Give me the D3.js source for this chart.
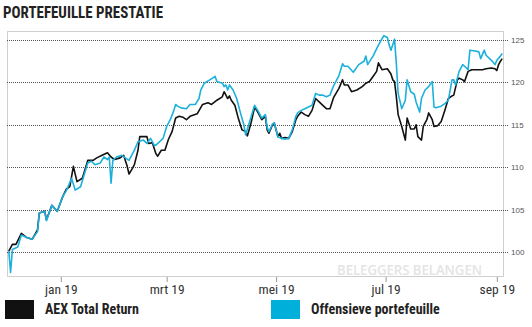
<!DOCTYPE html>
<html><head><meta charset="utf-8">
<script src="https://cdn.jsdelivr.net/npm/d3@7"></script>
<style>
html,body{margin:0;padding:0;background:#fff;}
svg{display:block;}
.narrow{font-family:"Liberation Sans Narrow","Arial Narrow","Roboto Condensed","Liberation Sans",Arial,sans-serif;font-stretch:condensed;}
</style></head>
<body>
<svg id="c" width="532" height="327"></svg>
<script>
const title = "PORTEFEUILLE PRESTATIE";
const watermark = "BELEGGERS BELANGEN";
const seriesNames = ["AEX Total Return", "Offensieve portefeuille"];
const seriesColors = ["#111111", "#1cb0dc"];
const yTicks = [100, 105, 110, 115, 120, 125];
const xTickDates = ["2019-01-01", "2019-03-01", "2019-05-01", "2019-07-01", "2019-09-01"];
const xTickLabels = ["jan 19", "mrt 19", "mei 19", "jul 19", "sep 19"];

const aexDates = ["2018-12-03","2018-12-05","2018-12-07","2018-12-10","2018-12-13","2018-12-16","2018-12-19","2018-12-20","2018-12-23","2018-12-24","2018-12-27","2018-12-30","2019-01-02","2019-01-04","2019-01-06","2019-01-08","2019-01-10","2019-01-13","2019-01-16","2019-01-19","2019-01-21","2019-01-24","2019-01-27","2019-01-29","2019-01-31","2019-02-03","2019-02-05","2019-02-07","2019-02-08","2019-02-10","2019-02-11","2019-02-13","2019-02-14","2019-02-18","2019-02-19","2019-02-21","2019-02-23","2019-02-24","2019-02-26","2019-02-28","2019-03-02","2019-03-04","2019-03-06","2019-03-08","2019-03-10","2019-03-12","2019-03-14","2019-03-18","2019-03-21","2019-03-24","2019-03-26","2019-03-29","2019-04-01","2019-04-02","2019-04-04","2019-04-05","2019-04-06","2019-04-08","2019-04-10","2019-04-12","2019-04-14","2019-04-15","2019-04-17","2019-04-19","2019-04-21","2019-04-23","2019-04-25","2019-04-26","2019-04-27","2019-04-29","2019-04-30","2019-05-02","2019-05-03","2019-05-04","2019-05-06","2019-05-08","2019-05-10","2019-05-12","2019-05-13","2019-05-15","2019-05-17","2019-05-19","2019-05-21","2019-05-23","2019-05-25","2019-05-27","2019-05-29","2019-05-31","2019-06-02","2019-06-05","2019-06-07","2019-06-08","2019-06-10","2019-06-12","2019-06-15","2019-06-18","2019-06-20","2019-06-22","2019-06-24","2019-06-26","2019-06-27","2019-06-29","2019-07-02","2019-07-04","2019-07-05","2019-07-06","2019-07-07","2019-07-08","2019-07-10","2019-07-12","2019-07-13","2019-07-15","2019-07-17","2019-07-18","2019-07-19","2019-07-21","2019-07-22","2019-07-24","2019-07-25","2019-07-27","2019-07-28","2019-07-30","2019-08-01","2019-08-03","2019-08-05","2019-08-07","2019-08-08","2019-08-10","2019-08-11","2019-08-13","2019-08-14","2019-08-16","2019-08-18","2019-08-21","2019-08-24","2019-08-26","2019-08-29","2019-08-31","2019-09-01","2019-09-02","2019-09-03","2019-09-04"];
const aexValues = [100.1,100.9,100.9,102.2,101.7,101.5,102.6,104.6,104.8,103.8,105.5,104.8,106.5,107.4,107.7,110.1,108.3,108.7,110.8,110.8,111.1,111.4,111.7,111.2,110.9,111.1,111.4,110.1,109.2,109.9,110.3,112.0,113.6,113.6,112.8,112.9,111.6,111.3,112.0,112.0,113.3,114.2,115.8,116.0,115.9,115.6,116.0,116.3,117.4,117.6,117.4,117.9,118.3,118.9,118.1,118.4,117.9,117.3,115.7,114.4,114.2,113.7,115.2,117.1,116.4,115.6,116.0,114.4,114.0,115.0,115.2,113.6,114.0,113.4,113.5,113.4,114.2,115.6,116.0,116.5,116.2,116.0,116.7,118.1,117.7,117.3,116.9,116.9,118.2,119.3,120.3,119.7,119.7,118.9,119.1,119.5,119.9,120.1,120.7,121.3,122.3,121.5,121.6,121.0,120.3,120.1,118.3,116.2,114.8,113.2,115.8,114.5,114.5,115.0,113.6,113.2,114.8,115.6,116.4,115.6,114.8,114.9,115.4,116.7,118.1,118.4,118.5,120.3,120.5,120.3,120.1,121.3,121.5,121.5,121.5,121.6,121.7,121.6,121.4,122.1,122.5,122.8];

const offDates = ["2018-12-03","2018-12-04","2018-12-05","2018-12-08","2018-12-10","2018-12-13","2018-12-16","2018-12-19","2018-12-20","2018-12-23","2018-12-24","2018-12-27","2018-12-30","2019-01-02","2019-01-04","2019-01-07","2019-01-09","2019-01-12","2019-01-16","2019-01-18","2019-01-20","2019-01-23","2019-01-25","2019-01-27","2019-01-28","2019-01-29","2019-01-30","2019-02-01","2019-02-04","2019-02-08","2019-02-11","2019-02-13","2019-02-16","2019-02-18","2019-02-20","2019-02-22","2019-02-23","2019-02-25","2019-02-27","2019-03-01","2019-03-03","2019-03-05","2019-03-06","2019-03-07","2019-03-09","2019-03-12","2019-03-14","2019-03-17","2019-03-19","2019-03-20","2019-03-22","2019-03-25","2019-03-28","2019-03-29","2019-04-01","2019-04-02","2019-04-03","2019-04-04","2019-04-05","2019-04-07","2019-04-09","2019-04-11","2019-04-13","2019-04-14","2019-04-16","2019-04-19","2019-04-21","2019-04-23","2019-04-25","2019-04-26","2019-04-27","2019-04-29","2019-04-30","2019-05-02","2019-05-04","2019-05-06","2019-05-08","2019-05-10","2019-05-12","2019-05-13","2019-05-15","2019-05-17","2019-05-19","2019-05-21","2019-05-23","2019-05-25","2019-05-27","2019-05-29","2019-05-31","2019-06-02","2019-06-05","2019-06-07","2019-06-08","2019-06-10","2019-06-13","2019-06-16","2019-06-19","2019-06-20","2019-06-21","2019-06-24","2019-06-27","2019-06-30","2019-07-02","2019-07-03","2019-07-04","2019-07-06","2019-07-07","2019-07-08","2019-07-10","2019-07-12","2019-07-13","2019-07-15","2019-07-17","2019-07-18","2019-07-20","2019-07-21","2019-07-23","2019-07-25","2019-07-27","2019-07-28","2019-07-29","2019-08-01","2019-08-03","2019-08-05","2019-08-07","2019-08-08","2019-08-09","2019-08-11","2019-08-13","2019-08-14","2019-08-16","2019-08-17","2019-08-20","2019-08-22","2019-08-23","2019-08-25","2019-08-26","2019-08-29","2019-08-31","2019-09-01","2019-09-03","2019-09-04"];
const offValues = [100.1,97.6,100.3,100.6,102.0,101.7,101.5,102.4,104.6,104.8,103.7,105.5,104.8,106.5,107.2,108.7,107.3,107.7,110.5,110.7,110.3,110.5,111.2,110.9,111.2,108.1,110.8,111.2,111.4,110.8,112.0,113.0,113.2,112.8,113.4,112.6,112.6,113.0,113.4,114.8,115.6,116.7,117.4,117.2,117.0,116.9,117.4,117.4,118.1,119.1,119.9,120.3,120.7,120.1,119.9,119.5,119.7,119.1,119.7,119.1,118.1,116.5,115.0,113.8,115.2,117.3,116.6,115.8,116.2,114.7,114.2,115.1,115.2,113.6,113.4,113.3,113.4,114.4,116.0,116.4,116.7,116.9,117.1,117.3,118.7,118.5,118.5,118.3,118.5,119.6,120.8,122.2,121.9,121.9,121.2,122.1,122.5,123.1,122.1,123.1,124.4,125.5,125.3,124.4,123.8,125.1,122.2,118.7,116.9,117.9,120.3,118.9,118.6,117.7,116.5,118.1,119.1,119.5,120.1,117.1,117.0,117.2,117.5,117.9,120.3,120.3,119.7,121.3,122.1,121.9,121.5,123.8,123.7,123.6,122.8,123.8,123.2,122.6,122.1,122.6,123.1,123.4];

const parse = d3.timeParse("%Y-%m-%d");
const svg = d3.select("#c");
const L = 7, R = 504, T = 31, B = 277;
const x = d3.scaleTime().domain([new Date(2018, 11, 2), new Date(2019, 8, 5)]).range([L, R]);
const y = d3.scaleLinear().domain([100, 125]).range([252, 40]);

// title
svg.append("text").attr("class", "narrow").attr("x", 3).attr("y", 18)
  .attr("font-size", 16).attr("font-weight", "bold").attr("fill", "#222")
  .attr("textLength", 160).attr("lengthAdjust", "spacingAndGlyphs").text(title);

// frame
svg.append("rect").attr("x", L + 0.5).attr("y", T + 0.5).attr("width", R - L - 1).attr("height", B - T - 1)
  .attr("fill", "none").attr("stroke", "#cfcfcf");

// watermark
svg.append("text").attr("x", 337).attr("y", 275).attr("font-family", "'Open Sans','Liberation Sans',sans-serif")
  .attr("font-size", 15).attr("font-weight", "600").attr("fill", "#e4e4e4")
  .attr("textLength", 145).attr("lengthAdjust", "spacingAndGlyphs").text(watermark);

// grid + right labels
const yAxis = d3.axisRight(y).tickValues(yTicks).tickSize(0).tickPadding(0);
yTicks.forEach(v => {
  const yy = Math.round(y(v)) + 0.5;
  svg.append("line").attr("x1", L).attr("x2", 508).attr("y1", yy).attr("y2", yy)
    .attr("stroke", "#555").attr("stroke-dasharray", "1,1");
});
const ya = svg.append("g").attr("transform", "translate(510,0)").call(yAxis);
ya.select(".domain").remove();
ya.selectAll("text").attr("font-family", "'Liberation Sans',Arial,sans-serif").attr("font-size", 8).attr("fill", "#555").attr("x", 1);

// x axis
const xAxis = d3.axisBottom(x).tickValues(xTickDates.map(parse)).tickSize(5).tickPadding(2)
  .tickFormat((d, i) => xTickLabels[i]);
const xa = svg.append("g").attr("transform", `translate(0,${B})`).call(xAxis);
xa.select(".domain").remove();
xa.selectAll("line").attr("stroke", "#999");
xa.selectAll("text").attr("class", "narrow").attr("font-size", 13.5).attr("fill", "#333").attr("y", 7).attr("dy", "0.71em");

// lines
const line = d3.line().x(d => x(d[0])).y(d => y(d[1]));
const aex = aexDates.map((d, i) => [parse(d), aexValues[i]]);
const off = offDates.map((d, i) => [parse(d), offValues[i]]);
[aex, off].forEach((s, i) => {
  svg.append("path").datum(s).attr("d", line).attr("fill", "none")
    .attr("stroke", seriesColors[i]).attr("stroke-width", 1.6).attr("stroke-linejoin", "round");
});

// legend
const legX = [5, 271];
seriesNames.forEach((n, i) => {
  svg.append("rect").attr("x", legX[i]).attr("y", 300).attr("width", 29).attr("height", 19).attr("fill", i === 0 ? "#111" : "#00b0da");
  svg.append("text").attr("class", "narrow").attr("x", legX[i] + 40).attr("y", 314)
    .attr("font-size", 14).attr("font-weight", "bold").attr("fill", "#222").text(n);
});
</script>
</body></html>
